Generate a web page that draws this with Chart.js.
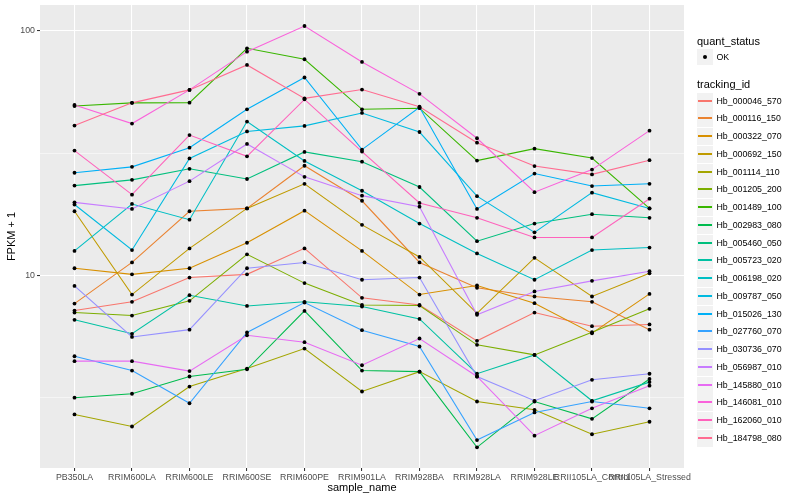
<!DOCTYPE html>
<html>
<head>
<meta charset="utf-8">
<script src="https://cdn.jsdelivr.net/npm/chart.js@4.4.0/dist/chart.umd.min.js"></script>
<style>
  html, body { margin: 0; padding: 0; background: #fff; }
  #wrap { position: relative; width: 800px; height: 500px; }
  #legend { position: absolute; left: 0; top: 0; width: 800px; height: 500px; pointer-events: none;
            font-family: "Liberation Sans", Arial, sans-serif; color: #000; }
</style>
</head>
<body>
<div id="wrap">
  <canvas id="fpkmChart"></canvas>
  <div id="legend"></div>
</div>
<script>
// Samples on the x axis
const sampleNames = ['PB350LA', 'RRIM600LA', 'RRIM600LE', 'RRIM600SE', 'RRIM600PE', 'RRIM901LA',
                     'RRIM928BA', 'RRIM928LA', 'RRIM928LE', 'RRII105LA_Control', 'RRII105LA_Stressed'];

// FPKM + 1 per gene, one value per sample
const hb_000046_570 = [7.18, 7.8, 9.8, 10.1, 12.9, 8.1, 7.57, 5.4, 7.05, 6.2, 6.3];
const hb_000116_150 = [7.67, 11.3, 18.3, 18.8, 28.1, 20.2, 11.3, 8.9, 8.2, 7.8, 6.0];
const hb_000322_070 = [10.7, 10.1, 10.7, 13.6, 18.4, 12.6, 8.35, 9.1, 7.7, 5.8, 8.4];
const hb_000692_150 = [18.3, 8.35, 12.9, 18.8, 23.7, 16.1, 11.9, 7.0, 11.8, 8.2, 10.2];
const hb_001114_110 = [2.70, 2.41, 3.51, 4.16, 5.02, 3.35, 4.04, 3.05, 2.82, 2.24, 2.52];
const hb_001205_200 = [7.05, 6.85, 7.87, 12.2, 9.3, 7.57, 7.53, 5.2, 4.73, 5.86, 7.3];
const hb_001489_100 = [49.3, 50.8, 50.9, 84.9, 76.6, 47.8, 48.3, 29.5, 33.0, 30.2, 18.8];
const hb_002983_080 = [3.16, 3.28, 3.86, 4.13, 7.16, 4.08, 4.04, 1.98, 3.05, 2.59, 3.77];
const hb_005460_050 = [23.3, 24.6, 27.3, 24.8, 32.0, 29.2, 23.0, 13.8, 16.3, 17.8, 17.2];
const hb_005723_020 = [6.58, 5.77, 8.3, 7.5, 7.8, 7.46, 6.64, 3.96, 4.73, 3.07, 3.66];
const hb_006198_020 = [12.6, 19.6, 16.9, 42.6, 29.4, 22.2, 16.3, 12.3, 9.6, 12.7, 13.0];
const hb_009787_050 = [19.5, 12.7, 30.1, 38.8, 40.9, 46.2, 38.6, 21.1, 15.0, 21.8, 18.8];
const hb_015026_130 = [26.3, 27.8, 33.3, 47.8, 64.5, 32.7, 48.7, 18.7, 26.1, 23.2, 23.7];
const hb_027760_070 = [4.67, 4.08, 3.0, 5.84, 7.74, 5.97, 5.12, 2.12, 2.75, 3.05, 2.86];
const hb_030736_070 = [9.06, 5.6, 6.0, 10.7, 11.3, 9.6, 9.8, 3.86, 3.07, 3.74, 3.96];
const hb_056987_010 = [19.9, 18.7, 24.3, 34.5, 25.3, 21.2, 19.1, 6.9, 8.6, 9.5, 10.4];
const hb_145880_010 = [4.46, 4.46, 4.06, 5.69, 5.33, 4.29, 5.52, 3.86, 2.21, 2.86, 3.54];
const hb_146081_010 = [49.8, 41.8, 57.4, 82.3, 104.8, 74.7, 55.3, 36.4, 21.9, 27.1, 39.1];
const hb_162060_010 = [32.4, 21.4, 37.5, 30.7, 52.5, 32.1, 19.8, 17.2, 14.3, 14.3, 20.6];
const hb_184798_080 = [41.0, 50.8, 57.4, 72.6, 53.0, 57.6, 49.0, 34.9, 28.0, 25.9, 29.6];

const trackingIds = ['Hb_000046_570', 'Hb_000116_150', 'Hb_000322_070', 'Hb_000692_150', 'Hb_001114_110',
                     'Hb_001205_200', 'Hb_001489_100', 'Hb_002983_080', 'Hb_005460_050', 'Hb_005723_020',
                     'Hb_006198_020', 'Hb_009787_050', 'Hb_015026_130', 'Hb_027760_070', 'Hb_030736_070',
                     'Hb_056987_010', 'Hb_145880_010', 'Hb_146081_010', 'Hb_162060_010', 'Hb_184798_080'];
const seriesValues = [hb_000046_570, hb_000116_150, hb_000322_070, hb_000692_150, hb_001114_110,
                      hb_001205_200, hb_001489_100, hb_002983_080, hb_005460_050, hb_005723_020,
                      hb_006198_020, hb_009787_050, hb_015026_130, hb_027760_070, hb_030736_070,
                      hb_056987_010, hb_145880_010, hb_146081_010, hb_162060_010, hb_184798_080];
const quantStatus = ['OK'];

// y axis: labelled breaks and the minor grid between them
const yTickValues = [10, 100];
const yMinorValues = [3.162, 31.62];

// ggplot default hue palette, 20 levels
const seriesColors = ['#F8766D', '#EA8331', '#D89000', '#C09B00', '#A3A500', '#7CAE00', '#39B600',
                      '#00BB4E', '#00BF7D', '#00C1A3', '#00BFC4', '#00BAE0', '#00B0F6', '#35A2FF',
                      '#9590FF', '#C77CFF', '#E76BF3', '#FA62DB', '#FF62BC', '#FF6C91'];

Chart.defaults.font.family = '"Liberation Sans", Arial, sans-serif';

const isMajorY = v => yTickValues.some(t => Math.abs(t - v) < 1e-6);

// grey panel behind the grid
const panelBg = {
    id: 'panelBg',
    beforeDraw(chart) {
        const { ctx, chartArea: a } = chart;
        ctx.save();
        ctx.fillStyle = '#EBEBEB';
        ctx.fillRect(a.left, a.top, a.right - a.left, a.bottom - a.top);
        ctx.restore();
    }
};

const lineSets = trackingIds.map((id, i) => ({
    label: id,
    data: seriesValues[i].map((v, j) => ({ x: j, y: v })),
    borderColor: seriesColors[i],
    backgroundColor: seriesColors[i],
    borderWidth: 1.07,
    pointRadius: 0,
    tension: 0,
    fill: false,
    order: -i
}));

// all points in black, on top of the lines
const pointSet = {
    label: quantStatus[0],
    data: seriesValues.flatMap(vals => vals.map((v, j) => ({ x: j, y: v }))),
    showLine: false,
    pointRadius: 1.9,
    pointBackgroundColor: '#000',
    pointBorderWidth: 0,
    order: -100
};

const ctx = document.getElementById('fpkmChart').getContext('2d');
const fpkmChart = new Chart(ctx, {
    type: 'line',
    data: { datasets: [...lineSets, pointSet] },
    options: {
        responsive: true,
        maintainAspectRatio: false,
        animation: false,
        layout: { padding: { left: 0, right: 116, top: 5, bottom: 0 } },
        plugins: {
            legend: { display: false },
            tooltip: { enabled: false }
        },
        scales: {
            x: {
                type: 'linear',
                min: -0.6,
                max: sampleNames.length - 0.4,
                afterBuildTicks: s => { s.ticks = sampleNames.map((_, i) => ({ value: i })); },
                afterFit: s => { s.height = 32; s.paddingLeft = 0; s.paddingRight = 0; },
                border: { display: false },
                grid: { color: '#FFFFFF', lineWidth: 1.07, tickLength: 3, tickWidth: 1.07, tickColor: '#333333' },
                ticks: {
                    autoSkip: false, maxRotation: 0, minRotation: 0, padding: 1,
                    color: '#4D4D4D', font: { size: 8.8 },
                    callback: v => sampleNames[v]
                },
                title: { display: true, text: 'sample_name', color: '#000', font: { size: 11 },
                         padding: { top: 0, bottom: 5 } }
            },
            y: {
                type: 'logarithmic',
                min: 1.63,
                max: 127.7,
                afterBuildTicks: s => {
                    s.ticks = [...yMinorValues, ...yTickValues].sort((a, b) => a - b).map(v => ({ value: v }));
                },
                afterFit: s => { s.width = 40; s.paddingTop = 0; s.paddingBottom = 0; },
                border: { display: false },
                grid: {
                    color: '#FFFFFF',
                    lineWidth: c => (c.tick && isMajorY(c.tick.value)) ? 1.07 : 0.53,
                    tickWidth: 1.07,
                    tickLength: 3,
                    tickColor: c => (c.tick && isMajorY(c.tick.value)) ? '#333333' : 'rgba(0,0,0,0)'
                },
                ticks: {
                    padding: 2, color: '#4D4D4D', font: { size: 8.8 },
                    callback: v => isMajorY(v) ? String(v) : ''
                },
                title: { display: true, text: 'FPKM + 1', color: '#000', font: { size: 11 },
                         padding: { top: 5, bottom: 0 } }
            }
        }
    },
    plugins: [panelBg]
});

// legend, ggplot style
const legendBox = document.getElementById('legend');
function addBox(css) {
    const d = document.createElement('div');
    Object.assign(d.style, { position: 'absolute' }, css);
    legendBox.appendChild(d);
    return d;
}
function addText(text, left, centerY, size) {
    const d = addBox({ left: left + 'px', top: (centerY - 8) + 'px', height: '16px',
                       lineHeight: '16px', fontSize: size + 'px', whiteSpace: 'nowrap' });
    d.textContent = text;
}

addText('quant_status', 697, 40.7, 11);
addBox({ left: '697px', top: '49px', width: '16px', height: '16px', background: '#F2F2F2' });
addBox({ left: '703px', top: '55px', width: '4px', height: '4px', borderRadius: '50%', background: '#000' });
addText(quantStatus[0], 716.5, 57, 8.8);

addText('tracking_id', 697, 84.3, 11);
trackingIds.forEach((id, i) => {
    const cy = Math.round(100.7 + i * 17.75);
    addBox({ left: '697px', top: (cy - 8) + 'px', width: '16px', height: '17px', background: '#F2F2F2' });
    addBox({ left: '698px', top: (cy - 1) + 'px', width: '14px', height: '1.5px', background: seriesColors[i] });
    addText(id, 716.5, cy, 8.8);
});
</script>
</body>
</html>
